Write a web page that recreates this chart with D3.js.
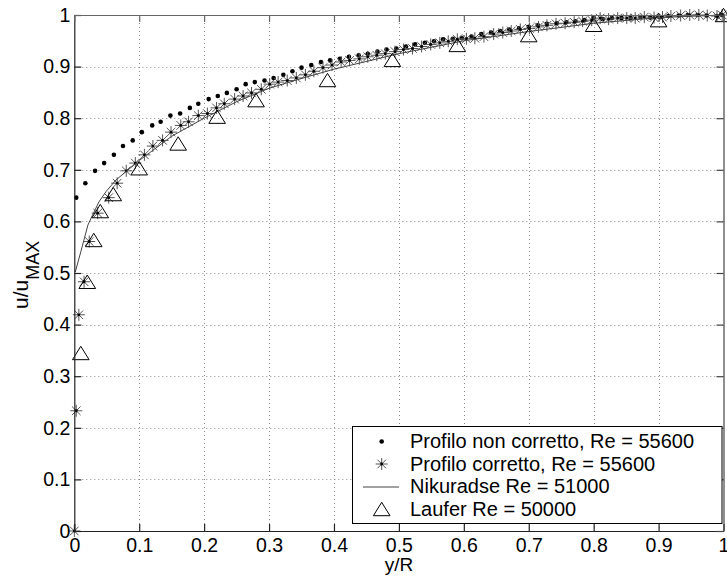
<!DOCTYPE html>
<html><head><meta charset="utf-8">
<script src="https://cdn.jsdelivr.net/npm/d3@7"></script>
<style>
html,body{margin:0;padding:0;background:#fff;}
svg text{font-family:"Liberation Sans",Arial,sans-serif;fill:#000;}
</style></head>
<body>
<svg id="chart" width="727" height="582"></svg>
<script>
// ---- data ----
const tickValues = [0,0.1,0.2,0.3,0.4,0.5,0.6,0.7,0.8,0.9,1];
const tickLabels = ["0","0.1","0.2","0.3","0.4","0.5","0.6","0.7","0.8","0.9","1"];

// Profilo non corretto, Re = 55600
const rawX = [0.003,0.017,0.032,0.046,0.061,0.075,0.090,0.104,0.120,0.133,0.148,0.163,0.178,0.191,0.207,0.221,0.235,0.250,0.264,0.278,0.293,0.307,0.322,0.336,0.350,0.365,0.380,0.394,0.409,0.423,0.438,0.452,0.467,0.481,0.496,0.511,0.525,0.540,0.554,0.568,0.583,0.597,0.612,0.627,0.642,0.656,0.670,0.685,0.700,0.714,0.728,0.743,0.758,0.772,0.786,0.800,0.814,0.828,0.843,0.857,0.872,0.887,0.901,0.915,0.931,0.945,0.960,0.974,0.989,0.998];
const rawY = [0.646,0.674,0.698,0.713,0.729,0.746,0.757,0.773,0.786,0.793,0.805,0.809,0.820,0.828,0.837,0.843,0.849,0.856,0.866,0.870,0.873,0.878,0.884,0.891,0.898,0.903,0.909,0.912,0.915,0.919,0.922,0.925,0.929,0.933,0.935,0.939,0.943,0.946,0.949,0.953,0.954,0.955,0.958,0.963,0.966,0.969,0.972,0.974,0.977,0.980,0.983,0.984,0.986,0.988,0.990,0.994,0.992,0.994,0.994,0.994,0.996,0.995,0.996,0.998,0.999,1.000,1.000,0.999,0.998,1.000];

// Profilo corretto, Re = 55600
const corrX = [0,0.003,0.007,0.015,0.023,0.036,0.053,0.066,0.080,0.094,0.108,0.121,0.136,0.149,0.164,0.176,0.191,0.205,0.219,0.231,0.247,0.260,0.273,0.288,0.301,0.314,0.328,0.342,0.356,0.369,0.383,0.397,0.411,0.424,0.439,0.452,0.466,0.479,0.494,0.507,0.521,0.535,0.549,0.563,0.576,0.590,0.604,0.617,0.631,0.646,0.660,0.673,0.687,0.701,0.715,0.728,0.742,0.756,0.770,0.783,0.797,0.810,0.823,0.837,0.851,0.864,0.878,0.893,0.906,0.919,0.934,0.948,0.962,0.975,0.990,0.998];
const corrY = [0,0.233,0.419,0.483,0.561,0.616,0.646,0.674,0.698,0.713,0.729,0.746,0.757,0.773,0.786,0.793,0.805,0.809,0.820,0.828,0.837,0.843,0.849,0.856,0.866,0.870,0.873,0.878,0.884,0.891,0.898,0.903,0.909,0.912,0.915,0.919,0.922,0.925,0.929,0.933,0.935,0.939,0.943,0.946,0.949,0.953,0.954,0.955,0.958,0.963,0.966,0.969,0.972,0.974,0.977,0.980,0.983,0.984,0.986,0.988,0.990,0.994,0.992,0.994,0.994,0.994,0.996,0.995,0.996,0.998,0.999,1.000,1.000,0.999,0.998,1.000];

// Nikuradse Re = 51000
const nikX = [0.0015,0.010,0.021,0.028,0.038,0.049,0.064,0.100,0.150,0.200,0.250,0.300,0.350,0.400,0.500,0.600,0.700,0.800,0.900,1.000];
const nikY = [0.502,0.541,0.593,0.612,0.638,0.658,0.680,0.718,0.765,0.800,0.832,0.858,0.877,0.895,0.925,0.950,0.968,0.984,0.995,1.000];

// Laufer Re = 50000
const laufX = [0.01,0.02,0.03,0.04,0.06,0.10,0.16,0.22,0.28,0.39,0.49,0.59,0.70,0.80,0.90,1.00];
const laufY = [0.345,0.483,0.564,0.620,0.653,0.703,0.751,0.803,0.835,0.874,0.913,0.942,0.961,0.981,0.990,1.000];

const legendLabels = ["Profilo non corretto, Re = 55600","Profilo corretto, Re = 55600","Nikuradse Re = 51000","Laufer Re = 50000"];

// ---- drawing ----
const svg = d3.select("#chart");
const L = 74.3, R = 723.5, T = 15, B = 531;
const x = d3.scaleLinear().domain([0,1]).range([L,R]);
const y = d3.scaleLinear().domain([0,1]).range([B,T]);
const fmt = (d,i) => tickLabels[i];

// grid
const grid = svg.append("g").attr("stroke","#8a8a8a").attr("stroke-width",1).attr("stroke-dasharray","1,3").attr("fill","none");
tickValues.slice(1,-1).forEach(v=>{
  grid.append("line").attr("x1",Math.round(x(v))+0.5).attr("x2",Math.round(x(v))+0.5).attr("y1",T).attr("y2",B);
  grid.append("line").attr("x1",L).attr("x2",R).attr("y1",Math.round(y(v))+0.5).attr("y2",Math.round(y(v))+0.5);
});

// marker helpers
function dot(g,cx,cy){ g.append("circle").attr("cx",cx).attr("cy",cy).attr("r",2.3).attr("fill","#000"); }
function star(g,cx,cy){
  const s=6, d=4.3;
  const p = `M${cx-s},${cy}L${cx+s},${cy}M${cx},${cy-s}L${cx},${cy+s}M${cx-d},${cy-d}L${cx+d},${cy+d}M${cx-d},${cy+d}L${cx+d},${cy-d}`;
  g.append("path").attr("d",p).attr("stroke","#555").attr("stroke-width",1).attr("fill","none");
  g.append("circle").attr("cx",cx).attr("cy",cy).attr("r",1.4).attr("fill","#000");
}
function tri(g,cx,cy){
  const w=8.3,h=6.7;
  g.append("path").attr("d",`M${cx},${cy-h}L${cx+w},${cy+h}L${cx-w},${cy+h}Z`).attr("stroke","#000").attr("stroke-width",1).attr("fill","none");
}

// series
const gDots = svg.append("g");
rawX.forEach((v,i)=>dot(gDots,x(v),y(rawY[i])));
const gStar = svg.append("g");
corrX.forEach((v,i)=>star(gStar,x(v),y(corrY[i])));
svg.append("path").datum(nikX.map((v,i)=>[v,nikY[i]]))
  .attr("d",d3.line().x(d=>x(d[0])).y(d=>y(d[1])))
  .attr("fill","none").attr("stroke","#444").attr("stroke-width",1);
const gTri = svg.append("g");
laufX.forEach((v,i)=>tri(gTri,x(v),y(laufY[i])));

// axes
function styleAxis(g,col){
  g.select(".domain").attr("stroke",col).attr("stroke-width",1.2);
  g.selectAll(".tick line").attr("stroke",col).attr("stroke-width",1.2);
  g.selectAll(".tick text").attr("font-size","19.5px").attr("fill","#000").attr("font-family","Liberation Sans, Arial, sans-serif");
}
const ax = svg.append("g").attr("transform",`translate(0,${B})`)
  .call(d3.axisBottom(x).tickValues(tickValues).tickFormat(fmt).tickSizeInner(-7).tickSizeOuter(0).tickPadding(7));
styleAxis(ax,"#222");
const ay = svg.append("g").attr("transform",`translate(${L},0)`)
  .call(d3.axisLeft(y).tickValues(tickValues).tickFormat(fmt).tickSizeInner(-7).tickSizeOuter(0).tickPadding(4));
styleAxis(ay,"#222");
const at = svg.append("g").attr("transform",`translate(0,${T})`)
  .call(d3.axisTop(x).tickValues(tickValues).tickFormat("").tickSizeInner(-7).tickSizeOuter(0));
styleAxis(at,"#666");
const ar = svg.append("g").attr("transform",`translate(${R},0)`)
  .call(d3.axisRight(y).tickValues(tickValues).tickFormat("").tickSizeInner(-7).tickSizeOuter(0));
styleAxis(ar,"#444");

// axis labels
svg.append("text").attr("x",399).attr("y",571).attr("text-anchor","middle").attr("font-size","19px").text("y/R");
const yl = svg.append("text").attr("transform","translate(28,309) rotate(-90)").attr("font-size","21px");
yl.append("tspan").text("u/u");
yl.append("tspan").attr("font-size","18px").attr("dy",11).text("MAX");

// legend
const lg = svg.append("g");
lg.append("rect").attr("x",352.5).attr("y",426.5).attr("width",369.5).attr("height",97).attr("fill","#fff").attr("stroke","#000").attr("stroke-width",1);
const base = [448,470.5,493,515.5];
legendLabels.forEach((t,i)=>{
  lg.append("text").attr("x",410).attr("y",base[i]).attr("font-size","20px").text(t);
});
const mx = 381.7;
dot(lg,mx,base[0]-6.5);
star(lg,mx,base[1]-6.5);
lg.append("line").attr("x1",363).attr("x2",399).attr("y1",base[2]-6).attr("y2",base[2]-6).attr("stroke","#444").attr("stroke-width",1);
tri(lg,mx,base[3]-6.5);
</script>
</body></html>
